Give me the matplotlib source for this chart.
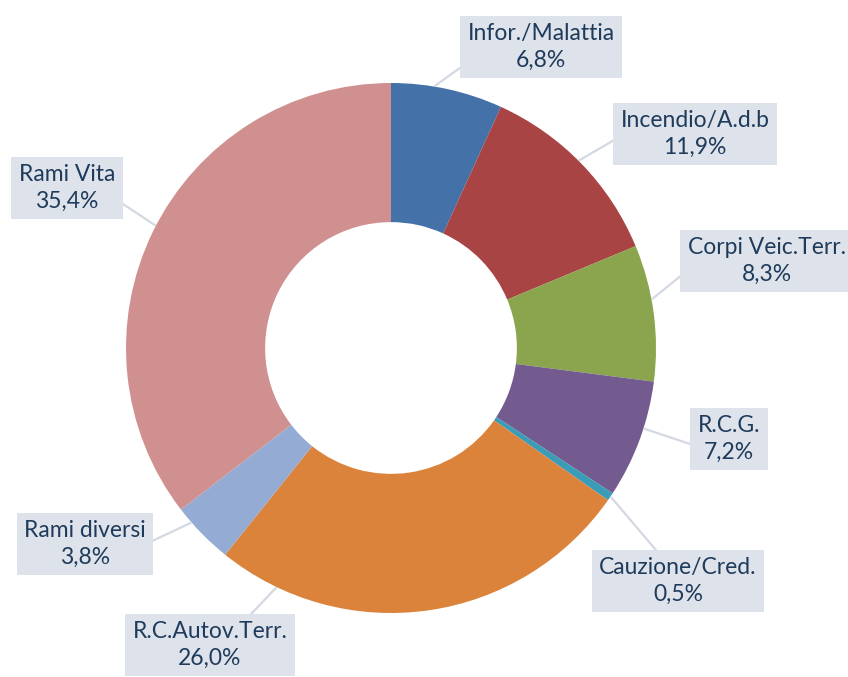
import numpy as np
import matplotlib.pyplot as plt

labels = ['Infor./Malattia', 'Incendio/A.d.b', 'Corpi Veic.Terr.', 'R.C.G.',
          'Cauzione/Cred.', 'R.C.Autov.Terr.', 'Rami diversi', 'Rami Vita']
values = [6.8, 11.9, 8.3, 7.2, 0.5, 26.0, 3.8, 35.4]
colors = ['#4472A8', '#A84443', '#8AA54D', '#735A8F', '#3B9CB7',
          '#DB823B', '#94ABD4', '#D09090']
# label box centres (pixels, from top-left)
label_pos = [(541, 47), (695, 134), (767, 261), (729, 439),
             (678, 581), (210, 645), (85, 544), (67, 188)]
# where the leader line meets the box (fraction of box) and the wedge
box_anchor = [(0, 0.17), (0, 0.45), (0, 0.31), (0, 0.34),
              (0.4, 1), (0.72, 1), (1, 0.5), (1, 0.27)]
wedge_frac = [0.39, 0.48, 0.40, 0.40, 0.5, 0.86, 0.74, 0.51]

W, H = 848, 677
fig = plt.figure(figsize=(W / 100, H / 100), dpi=100)
ax = fig.add_axes([0, 0, 1, 1])

cx, cy, r = 391, H - 348, 265
wedges, _ = ax.pie(values, colors=colors, startangle=90, counterclock=False,
                   center=(cx, cy), radius=r, frame=True,
                   wedgeprops=dict(width=r * 0.525, edgecolor='none'))
ax.set_xlim(0, W)
ax.set_ylim(0, H)
ax.axis('off')

for i, w in enumerate(wedges):
    ang = np.deg2rad(w.theta2 - wedge_frac[i] * (w.theta2 - w.theta1))
    px = cx + (r + 1) * np.cos(ang)
    py = cy + (r + 1) * np.sin(ang)
    lx, ly = label_pos[i]
    txt = labels[i] + '\n' + f'{values[i]:.1f}'.replace('.', ',') + '%'
    ax.annotate(txt, xy=(px, py), xytext=(lx, H - ly), ha='center', va='center',
                fontsize=16.5, color='#1F3B5B', family=['Lato', 'DejaVu Sans'],
                linespacing=1.3,
                bbox=dict(boxstyle='square,pad=0.33', fc='#DEE2EA', ec='none'),
                arrowprops=dict(arrowstyle='-', color='#D3D8E2', lw=1.6,
                                shrinkA=0, shrinkB=0, relpos=box_anchor[i]))

fig.savefig('out.png', dpi=100)
